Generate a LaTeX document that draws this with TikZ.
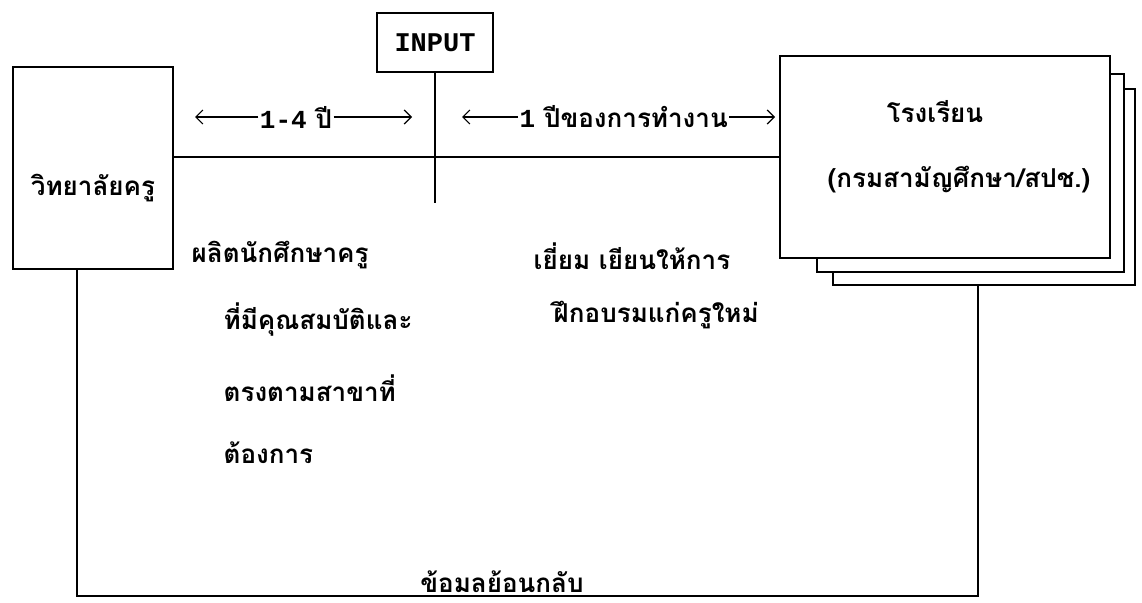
\documentclass[tikz,border=0pt]{standalone}
\usepackage{fontspec}
\newfontfamily\thai[Script=Thai]{Loma}
\newfontfamily\mono{Liberation Mono}
\usetikzlibrary{arrows.meta, positioning}

\begin{document}
\begin{tikzpicture}[x=1pt, y=-1pt, line width=1.4pt,
  box/.style={draw, fill=white, inner sep=0pt},
  txt/.style={font=\thai\bfseries\fontsize{26}{30}\selectfont, inner sep=1pt},
  span/.style={-{Straight Barb[length=7pt,width=14pt]}, line width=1.2pt}]
\useasboundingbox (0,0) rectangle (1142,602);
% boxes
\node[box, minimum width=160pt, minimum height=202pt] (college) at (93,168) {};
\node[txt] (collegetxt) at (93,188) {วิทยาลัยครู};
\node[box, minimum width=116pt, minimum height=59pt,
  font=\mono\bfseries\fontsize{27}{30}\selectfont] (input) at (435,42.5) {INPUT};
\node[box, minimum width=302pt, minimum height=196pt] (back3) at (984,187) {};
\node[box, minimum width=307pt, minimum height=198pt] (back2) at (970.5,173) {};
\node[box, minimum width=330pt, minimum height=202pt] (school) at (945,157) {};
\node[txt] (schooltxt) at (935,112) {โรงเรียน};
\node[txt] (schoolsub) at (959,180) {(กรมสามัญศึกษา/สปช.)};
% lines
\coordinate (inputend) at (0,203);
\draw (college.east |- school.west) -- (school.west);
\draw (input.south) -- (input.south |- inputend);
\coordinate (fbl) at (77,596);
\coordinate (fbr) at (978,596);
\draw (college.south -| fbl) -- (fbl) -- (fbr) -- (back3.south -| fbr);
\node[txt, anchor=south] (feedback) at (502,594) {ข้อมลย้อนกลับ};
% time spans
\node[txt] (span14) at (296,117) {{\mono\bfseries 1-4} ปี};
\coordinate (span14l) at (195,117);
\coordinate (span14r) at (412,117);
\draw[span] (span14.west) -- (span14l);
\draw[span] (span14.east) -- (span14r);
\node[txt, anchor=west] (spanwork) at (518,117) {{\mono\bfseries 1} ปีของการทำงาน};
\coordinate (spanworkl) at (462,117);
\coordinate (spanworkr) at (775,117);
\draw[span] (spanwork.west) -- (spanworkl);
\draw[span] (spanwork.east) -- (spanworkr);
% notes
\node[txt, anchor=west] (prod1) at (190,255) {ผลิตนักศึกษาครู};
\node[txt, anchor=west] (prod2) at (222,320) {ที่มีคุณสมบัติและ};
\node[txt, anchor=west] (prod3) at (222,388) {ตรงตามสาขาที่};
\node[txt, anchor=west] (prod4) at (222,453) {ต้องการ};
\node[txt, anchor=west] (visit1) at (532,256) {เยี่ยม เยียนให้การ};
\node[txt, anchor=west] (visit2) at (552,315) {ฝึกอบรมแก่ครูใหม่};
\end{tikzpicture}
\end{document}
